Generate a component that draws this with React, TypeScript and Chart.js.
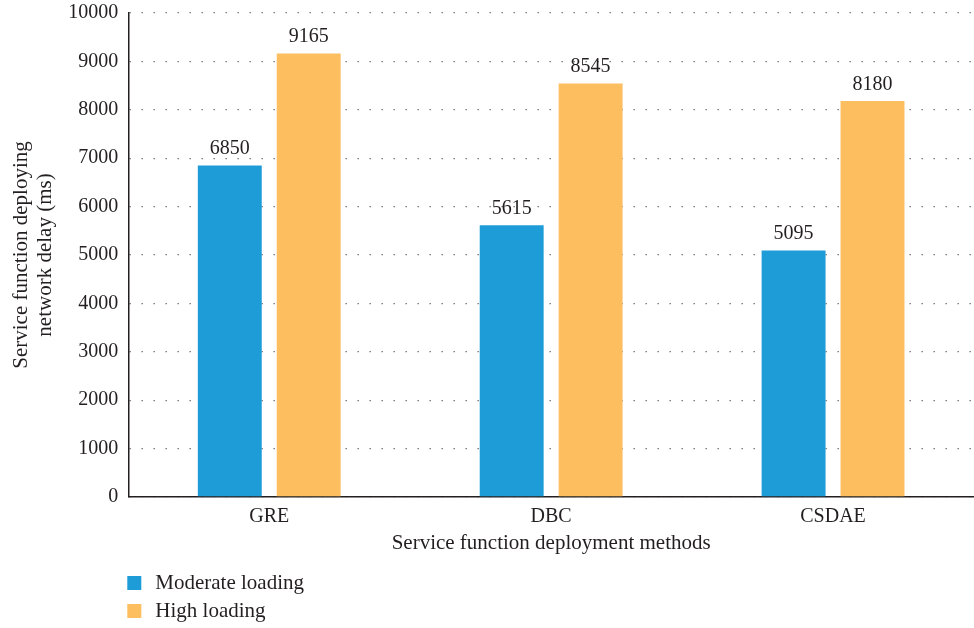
import React, { useEffect, useRef } from "react";
import { Chart, registerables } from "chart.js";

Chart.register(...registerables);

const categories = ["GRE", "DBC", "CSDAE"];
const moderateLoading = [6850, 5615, 5095];
const highLoading = [9165, 8545, 8180];
const seriesNames = ["Moderate loading", "High loading"];
const yTitleLines = ["Service function deploying", "network delay (ms)"];
const xTitle = "Service function deployment methods";

const FONT = "'Liberation Serif', 'Times New Roman', serif";
const BLUE = "#1E9CD7";
const ORANGE = "#FCBE5F";
const TEXT = "#231F20";

export default function App() {
  const ref = useRef<HTMLCanvasElement | null>(null);

  useEffect(() => {
    document.body.style.margin = "0";
    const canvas = ref.current;
    if (!canvas) return;

    const valueLabels = {
      id: "valueLabels",
      afterDatasetsDraw(chart: any) {
        const ctx = chart.ctx;
        ctx.save();
        ctx.font = `20px ${FONT}`;
        ctx.fillStyle = TEXT;
        ctx.textAlign = "center";
        ctx.textBaseline = "alphabetic";
        chart.data.datasets.forEach((ds: any, i: number) => {
          const meta = chart.getDatasetMeta(i);
          meta.data.forEach((el: any, j: number) => {
            ctx.fillText(String(ds.data[j]), el.x, el.y - 11);
          });
        });
        ctx.restore();
      },
    };

    const stackedLegend = {
      id: "stackedLegend",
      afterDraw(chart: any) {
        const ctx = chart.ctx;
        const left = chart.chartArea.left - 1;
        ctx.save();
        ctx.font = `21px ${FONT}`;
        ctx.textBaseline = "middle";
        ctx.textAlign = "left";
        chart.data.datasets.forEach((ds: any, i: number) => {
          const cy = 583 + i * 28;
          ctx.fillStyle = ds.backgroundColor;
          ctx.fillRect(left, cy - 7, 14, 14);
          ctx.fillStyle = TEXT;
          ctx.fillText(ds.label, left + 28, cy);
        });
        ctx.restore();
      },
    };

    const chart = new Chart(canvas, {
      type: "bar",
      data: {
        labels: categories,
        datasets: [
          {
            label: seriesNames[0],
            data: moderateLoading,
            backgroundColor: BLUE,
            categoryPercentage: 0.56,
            barPercentage: 0.81,
          },
          {
            label: seriesNames[1],
            data: highLoading,
            backgroundColor: ORANGE,
            categoryPercentage: 0.56,
            barPercentage: 0.81,
          },
        ],
      },
      options: {
        responsive: false,
        animation: false,
        layout: { padding: { top: 13, right: 0, bottom: 74, left: 4 } },
        plugins: {
          legend: { display: false },
          tooltip: { enabled: false },
        },
        scales: {
          x: {
            grid: { display: false, drawTicks: false },
            border: { display: true, color: TEXT, width: 1.5 },
            ticks: { font: { family: FONT, size: 20, lineHeight: 1 }, color: TEXT, padding: 10 },
            title: {
              display: true,
              text: xTitle,
              font: { family: FONT, size: 21, lineHeight: 1 },
              color: TEXT,
              padding: { top: -4, bottom: 0 },
            },
          },
          y: {
            min: 0,
            max: 10000,
            afterFit: (scale: any) => {
              scale.paddingTop = 0;
              scale.paddingBottom = 0;
            },
            ticks: {
              stepSize: 1000,
              font: { family: FONT, size: 20 },
              color: TEXT,
              padding: 10,
              callback: (v: any) => String(v),
            },
            grid: {
              drawTicks: false,
              color: "#666",
              lineWidth: 1.3,
            },
            border: { display: true, color: TEXT, width: 1.5, dash: [1.3, 10.7] },
            title: {
              display: true,
              text: yTitleLines,
              font: { family: FONT, size: 21, lineHeight: 1.15 },
              color: TEXT,
              padding: { top: 5, bottom: 1 },
            },
          },
        },
      },
      plugins: [valueLabels, stackedLegend],
    });

    return () => chart.destroy();
  }, []);

  return <canvas ref={ref} width={974} height={628} style={{ display: "block" }} />;
}
